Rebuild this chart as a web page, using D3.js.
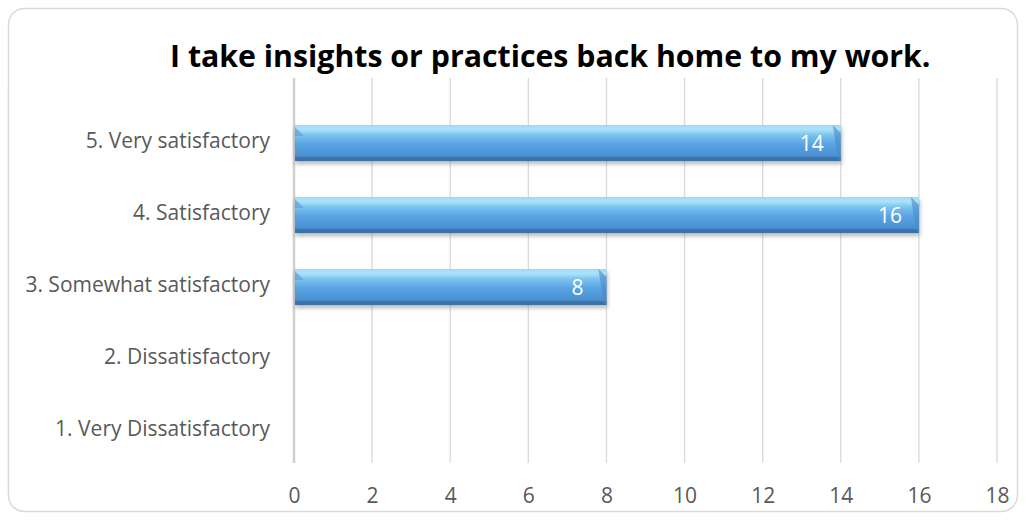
<!DOCTYPE html>
<html>
<head>
<meta charset="utf-8">
<script src="https://cdn.jsdelivr.net/npm/d3@7"></script>
<style>
  html, body { margin: 0; padding: 0; background: #fff; }
  svg { display: block; }
</style>
</head>
<body>
<svg id="chart" width="1026" height="520"></svg>
<script>
// Survey responses
const title = "I take insights or practices back home to my work.";
const categories = [
  "5. Very satisfactory",
  "4. Satisfactory",
  "3. Somewhat satisfactory",
  "2. Dissatisfactory",
  "1. Very Dissatisfactory"
];
const counts = [14, 16, 8, 0, 0];
const tickValues = [0, 2, 4, 6, 8, 10, 12, 14, 16, 18];

const svg = d3.select("#chart");
const font = "'Open Sans', 'Liberation Sans', sans-serif";

// pick a font size so a sample string spans the given width
function fitSize(text, width, weight) {
  const t = svg.append("text").attr("font-family", font)
    .attr("font-weight", weight || "normal").attr("font-size", 100).text(text);
  const w = t.node().getComputedTextLength();
  t.remove();
  return 100 * width / w;
}
const titleSize = fitSize("I take insights or practi", 350, "bold");
const labelSize = fitSize("1. Very Dissatisfactory", 215);

// frame
svg.append("rect")
  .attr("x", 8.5).attr("y", 8.5)
  .attr("width", 1009).attr("height", 503)
  .attr("rx", 16).attr("ry", 16)
  .attr("fill", "#fff")
  .attr("stroke", "#d9d9d9").attr("stroke-width", 1.5);

// title
svg.append("text")
  .attr("x", 170).attr("y", 67)
  .attr("text-anchor", "start")
  .attr("font-family", font)
  .attr("font-weight", "bold")
  .attr("font-size", titleSize)
  .attr("fill", "#000")
  .text(title);

const x = d3.scaleLinear().domain([0, 18]).range([294, 997]);
const y = d3.scaleBand().domain(categories).range([107, 467]).paddingInner(0.5).paddingOuter(0.25);

const gridTop = 78, gridBottom = 463;

// gradients
const defs = svg.append("defs");
const g = defs.append("linearGradient").attr("id", "barFill")
  .attr("x1", 0).attr("y1", 0).attr("x2", 0).attr("y2", 1);
[[0, "#9fd8f6"], [0.12, "#ace3fa"], [0.3, "#78c0ee"], [0.55, "#58a2e2"], [0.85, "#4b91d2"], [1, "#3c76b0"]]
  .forEach(([o, c]) => g.append("stop").attr("offset", o).attr("stop-color", c));
const sh = defs.append("filter").attr("id", "shadow")
  .attr("x", "-5%").attr("y", "-30%").attr("width", "110%").attr("height", "180%");
sh.append("feGaussianBlur").attr("stdDeviation", 2);

// gridlines
svg.append("g")
  .selectAll("line")
  .data(tickValues.slice(1))
  .join("line")
  .attr("x1", d => x(d)).attr("x2", d => x(d))
  .attr("y1", gridTop).attr("y2", gridBottom)
  .attr("stroke", "#d9d9d9").attr("stroke-width", 1.3);

// vertical axis line
svg.append("line")
  .attr("x1", x(0)).attr("x2", x(0))
  .attr("y1", gridTop).attr("y2", gridBottom)
  .attr("stroke", "#d0d0d0").attr("stroke-width", 2.5);

// x-axis tick labels
const xAxis = d3.axisBottom(x).tickValues(tickValues).tickSize(0).tickPadding(0);
const xg = svg.append("g").attr("transform", `translate(0, ${503})`).call(xAxis);
xg.select(".domain").remove();
xg.selectAll("text")
  .attr("font-family", font).attr("font-size", labelSize)
  .attr("fill", "#595959").attr("y", 0).attr("dy", 0);

// y-axis category labels
const yAxis = d3.axisLeft(y).tickSize(0).tickPadding(0);
const yg = svg.append("g").attr("transform", `translate(${270}, -2)`).call(yAxis);
yg.select(".domain").remove();
yg.selectAll("text")
  .attr("font-family", font).attr("font-size", labelSize)
  .attr("fill", "#595959");

// bars
const bars = svg.append("g")
  .selectAll("g")
  .data(categories.map((c, i) => ({ c, v: counts[i] })).filter(d => d.v > 0))
  .join("g");

const bh = y.bandwidth();
bars.append("rect")
  .attr("x", d => x(0) + 1)
  .attr("y", d => y(d.c) + 3)
  .attr("width", d => x(d.v) - x(0))
  .attr("height", bh)
  .attr("fill", "#6f6f6f").attr("opacity", 0.5)
  .attr("filter", "url(#shadow)");

bars.append("rect")
  .attr("x", d => x(0) + 1)
  .attr("y", d => y(d.c))
  .attr("width", d => x(d.v) - x(0) - 1)
  .attr("height", bh)
  .attr("fill", "url(#barFill)");

// bevel: dark bottom band and corner facets
bars.append("rect")
  .attr("x", d => x(0) + 1)
  .attr("y", d => y(d.c) + bh - 4)
  .attr("width", d => x(d.v) - x(0) - 1)
  .attr("height", 4)
  .attr("fill", "#3a6fa3").attr("opacity", 0.75);
bars.append("path")
  .attr("d", d => {
    const x0 = x(0) + 1, y0 = y(d.c);
    return `M${x0},${y0 + 2}L${x0 + 9},${y0 + 11}L${x0},${y0 + 11}Z`;
  })
  .attr("fill", "#5fa6e4").attr("opacity", 0.8);
bars.append("path")
  .attr("d", d => {
    const x1 = x(d.v), y0 = y(d.c);
    return `M${x1 - 8},${y0}L${x1},${y0 + 8}L${x1},${y0 + bh}L${x1 - 3},${y0 + bh - 3}Z`;
  })
  .attr("fill", "#4a89c8").attr("opacity", 0.6);

// value labels
bars.append("text")
  .attr("x", d => x(d.v) - 29)
  .attr("y", d => y(d.c) + bh / 2)
  .attr("dy", "0.36em")
  .attr("text-anchor", "middle")
  .attr("font-family", font).attr("font-size", labelSize)
  .attr("fill", "#fff")
  .text(d => d.v);
</script>
</body>
</html>
